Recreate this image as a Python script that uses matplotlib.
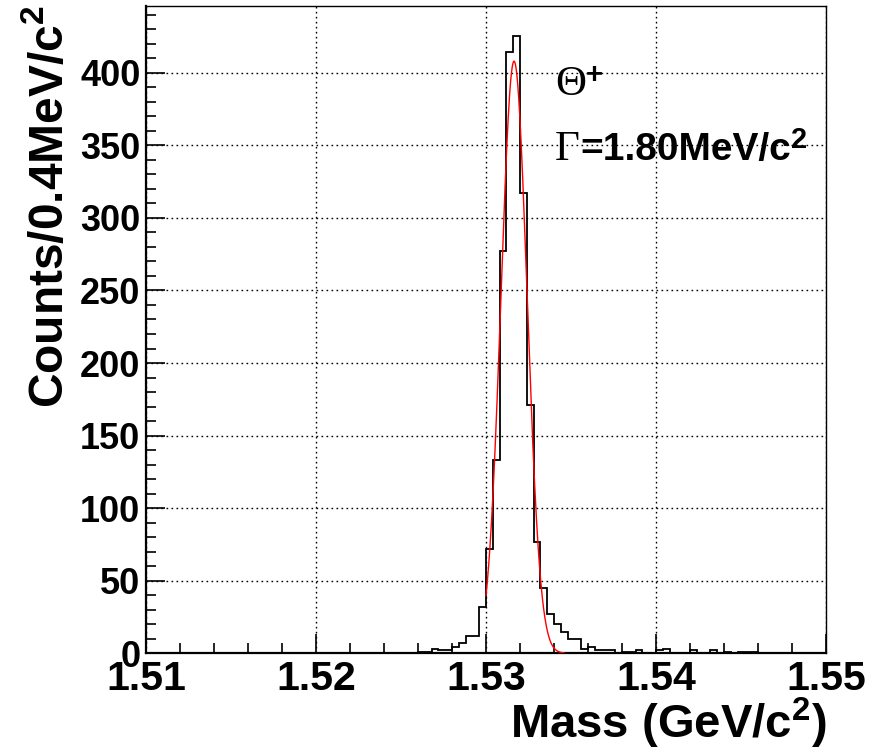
import numpy as np
import matplotlib
matplotlib.use('Agg')
from matplotlib import pyplot
from matplotlib.ticker import MultipleLocator
from matplotlib.transforms import IdentityTransform

# histogram: 100 bins of 0.4 MeV between 1.51 and 1.55 GeV
bin_lo = 1.51
bin_hi = 1.55
n_bins = 100
counts = [0] * 40 + [
    1, 1, 3, 2, 2, 4, 7, 12, 12, 32,
    72, 133, 277, 414, 425, 317, 171, 77, 45, 27,
    20, 15, 10, 10, 3, 4, 2, 2, 2, 0,
    1, 1, 2, 0, 0, 2, 3, 0, 0, 0,
    2, 0, 0, 2, 0, 1, 0, 1, 1, 1,
] + [0] * 10

# gaussian fit (red curve)
fit_amp = 408.
fit_mean = 1.53165
fit_sigma = 0.000765
fit_range = (1.5300, 1.5346)

x_ticks = [1.51, 1.52, 1.53, 1.54, 1.55]
y_ticks = [0, 50, 100, 150, 200, 250, 300, 350, 400]

pyplot.rcParams['font.family'] = ['Liberation Sans', 'DejaVu Sans']
pyplot.rcParams['font.weight'] = 'bold'
pyplot.rcParams['mathtext.fontset'] = 'custom'
pyplot.rcParams['mathtext.rm'] = 'Liberation Sans:bold'
pyplot.rcParams['mathtext.it'] = 'Liberation Sans:bold'
pyplot.rcParams['mathtext.bf'] = 'Liberation Sans:bold'

dpi = 100.
fig = pyplot.figure(figsize=(878 / dpi, 751 / dpi), dpi=dpi)
W, H = 878., 751.
ax = fig.add_axes([146 / W, 1 - 653.3 / H, (826 - 146) / W, (653.3 - 6) / H])

edges = np.linspace(bin_lo, bin_hi, n_bins + 1)
ax.stairs(counts, edges, color='black', lw=1.3, zorder=3)

xf = np.linspace(fit_range[0], fit_range[1], 300)
yf = fit_amp * np.exp(-0.5 * ((xf - fit_mean) / fit_sigma) ** 2)
ax.plot(xf, yf, color='red', lw=1.0, zorder=4)

ax.set_xlim(bin_lo, bin_hi)
ax.set_ylim(0, 446)
ax.set_xticks(x_ticks)
ax.set_xticklabels(['%.2f' % v for v in x_ticks])
ax.set_yticks(y_ticks)
ax.xaxis.set_minor_locator(MultipleLocator(0.002))
ax.yaxis.set_minor_locator(MultipleLocator(10))
ax.tick_params(which='both', direction='in', top=False, right=False, width=1.2)
ax.tick_params(which='major', length=13.5)
ax.tick_params(which='minor', length=7)
ax.tick_params(axis='y', labelsize=26, pad=4)
ax.tick_params(axis='x', labelsize=29.5, pad=5)
for lab in ax.get_xticklabels() + ax.get_yticklabels():
    lab.set_fontweight('bold')

ax.grid(True, which='major', color='black', linestyle=(0, (1.2, 2.4)), lw=1.0)
ax.set_axisbelow(True)
for side in ['left', 'bottom']:
    ax.spines[side].set_linewidth(1.6)
for side in ['top', 'right']:
    ax.spines[side].set_linewidth(1.0)

fig.text(826 / W, 1 - 738 / H, 'Mass (GeV/c$^{2}$)', fontsize=34,
         fontweight='bold', ha='right', va='baseline')
fig.text(50 / W, 1 - 5 / H, 'Counts/0.4MeV/c$^{2}$', fontsize=34.5,
         fontweight='bold', rotation=90, ha='center', va='top')


def text_run(x, y, pieces):
    """Place text pieces one after another, starting at pixel (x, y)."""
    renderer = fig.canvas.get_renderer()
    for s, dy, kw in pieces:
        t = fig.text(x, y + dy, s, transform=IdentityTransform(),
                     ha='left', va='baseline', **kw)
        x = t.get_window_extent(renderer).x1


serif = dict(family='Liberation Serif', fontweight='normal', fontsize=31)
sans = dict(family='Liberation Sans', fontweight='bold', fontsize=28)
sup = dict(family='Liberation Sans', fontweight='bold', fontsize=21)

x0, y0 = ax.transData.transform((1.53406, 385))
text_run(x0, y0, [('\u0398', 0, serif), ('+', 12, sup)])
x0, y0 = ax.transData.transform((1.53406, 340))
text_run(x0, y0, [('\u0393', 0, serif), ('=1.80MeV/c', 0, sans), ('2', 12, sup)])

fig.savefig('out.png', dpi=dpi, facecolor='white')
